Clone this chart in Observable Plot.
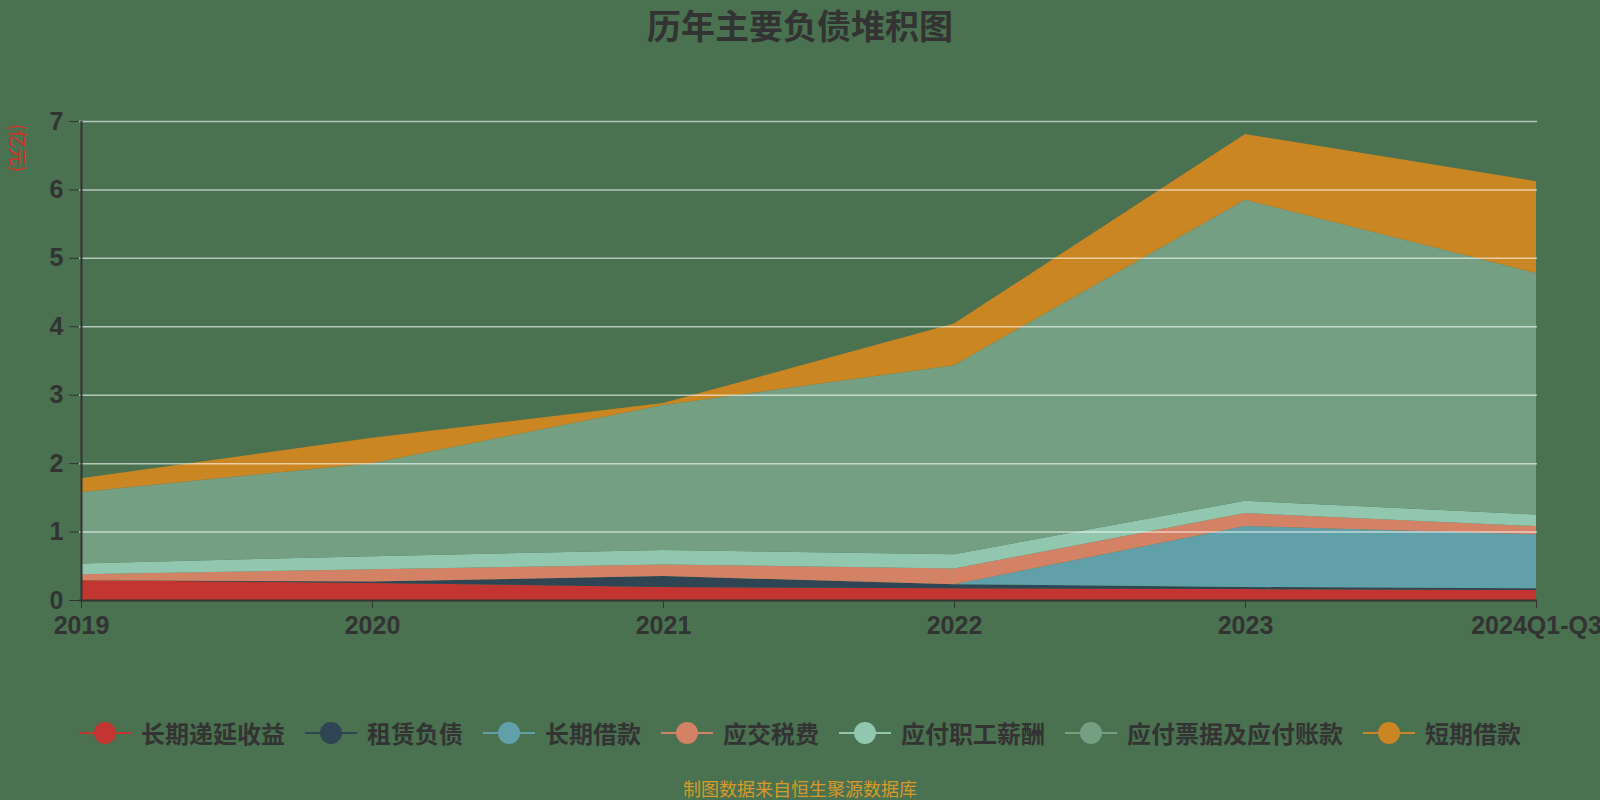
<!DOCTYPE html>
<html>
<head>
<meta charset="utf-8">
<script src="https://cdn.jsdelivr.net/npm/d3@7"></script>
<script src="https://cdn.jsdelivr.net/npm/@observablehq/plot@0.6"></script>
<style>
  html, body { margin: 0; padding: 0; background: #4a7150; overflow: hidden; }
  #wrap { position: relative; width: 1600px; height: 800px; font-family: "Noto Sans CJK SC", "Noto Sans", sans-serif; }
  #chart { position: absolute; left: 0; top: 0; }
  #title { position: absolute; left: 0; top: 0; width: 1600px; text-align: center; font-size: 34px; font-weight: bold; color: #333; line-height: 50px; }
  #ylabel { position: absolute; left: 10px; top: 148px; font-size: 18px; color: #e02a22; transform-origin: left top; transform: rotate(90deg) translate(-24px, -18px); white-space: nowrap; line-height: 18px; }
  #legend { position: absolute; left: 0; top: 715px; width: 1600px; display: flex; justify-content: center; align-items: center; }
  .item { display: flex; align-items: center; margin: 0 10px; }
  .item svg { margin-right: 10px; }
  .item span { font-size: 24px; font-weight: bold; color: #333; line-height: 36px; }
  #caption { position: absolute; left: 0; top: 776px; width: 1600px; text-align: center; font-size: 18px; color: #d69a2a; line-height: 24px; }
</style>
</head>
<body>
<div id="wrap">
  <div id="chart"></div>
  <div id="title"></div>
  <div id="ylabel"></div>
  <div id="legend"></div>
  <div id="caption"></div>
</div>
<script>
const titleText = "历年主要负债堆积图";
const unitLabel = "(亿元)";
const captionText = "制图数据来自恒生聚源数据库";
const years = ["2019", "2020", "2021", "2022", "2023", "2024Q1-Q3"];
const seriesNames = ["长期递延收益", "租赁负债", "长期借款", "应交税费", "应付职工薪酬", "应付票据及应付账款", "短期借款"];
const seriesColors = ["#c23531", "#2f4554", "#61a0a8", "#d48265", "#91c7ae", "#749f83", "#ca8622"];
const yTicks = [0, 1, 2, 3, 4, 5, 6, 7];

const 长期递延收益 = [0.29, 0.25, 0.19, 0.17, 0.16, 0.145];
const 租赁负债 = [0.0, 0.02, 0.16, 0.06, 0.03, 0.025];
const 长期借款 = [0.0, 0.0, 0.0, 0.0, 0.89, 0.79];
const 应交税费 = [0.085, 0.18, 0.17, 0.23, 0.19, 0.12];
const 应付职工薪酬 = [0.16, 0.19, 0.21, 0.21, 0.18, 0.17];
const 应付票据及应付账款 = [1.045, 1.36, 2.12, 2.76, 4.40, 3.53];
const 短期借款 = [0.2, 0.37, 0.03, 0.61, 0.96, 1.34];

const seriesValues = [长期递延收益, 租赁负债, 长期借款, 应交税费, 应付职工薪酬, 应付票据及应付账款, 短期借款];

const rows = [];
seriesNames.forEach((s, i) => {
  years.forEach((y, j) => rows.push({ year: y, series: s, value: seriesValues[i][j] }));
});

const chart = Plot.plot({
  width: 1600,
  height: 800,
  marginLeft: 79,
  marginRight: 63,
  marginTop: 121,
  marginBottom: 200,
  style: { background: "transparent", color: "#333", fontFamily: "'Liberation Sans', Arial, sans-serif", overflow: "visible" },
  x: { type: "point", domain: years, padding: 0 },
  y: { domain: [0, 7] },
  color: { domain: seriesNames, range: seriesColors },
  marks: [
    Plot.areaY(rows, { x: "year", y: "value", fill: "series", order: seriesNames, curve: "linear" }),
    Plot.ruleY(yTicks.filter(d => d > 0), { stroke: "#ffffff", strokeOpacity: 0.6, strokeWidth: 1.5 }),
    Plot.ruleX([years[0]], { y1: 0, y2: 7, stroke: "#333", strokeWidth: 2 }),
    Plot.ruleY([0], { stroke: "#333", strokeWidth: 2 }),
    Plot.axisY({ ticks: yTicks, tickSize: 10, tickPadding: 6, fontSize: 25, fontWeight: "bold", label: null, tickFormat: d => String(d) }),
    Plot.axisX({ tickSize: 8, tickPadding: 8, fontSize: 25, fontWeight: "bold", label: null })
  ]
});
document.getElementById("chart").appendChild(chart);

document.getElementById("title").textContent = titleText;
document.getElementById("ylabel").textContent = unitLabel;
document.getElementById("caption").textContent = captionText;

const legend = document.getElementById("legend");
seriesNames.forEach((s, i) => {
  const item = document.createElement("div");
  item.className = "item";
  const c = seriesColors[i];
  item.innerHTML = `<svg width="52" height="26"><line x1="0" y1="13" x2="52" y2="13" stroke="${c}" stroke-width="2"/><circle cx="26" cy="13" r="11" fill="${c}"/></svg><span></span>`;
  item.querySelector("span").textContent = s;
  legend.appendChild(item);
});
</script>
</body>
</html>
